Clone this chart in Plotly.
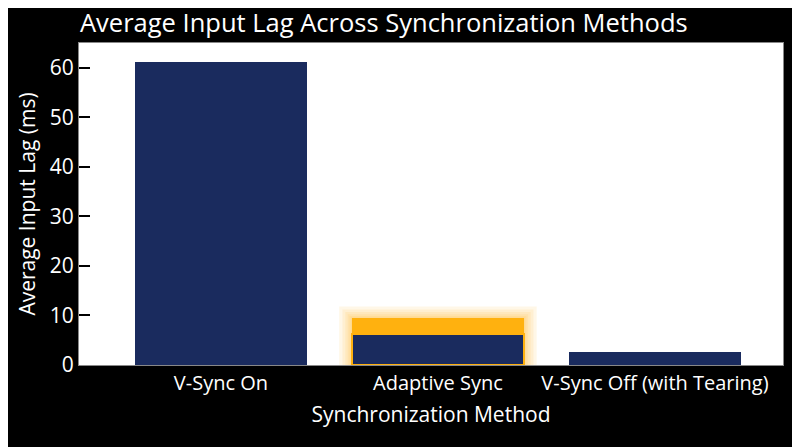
import plotly.graph_objects as go

methods = ["V-Sync On", "Adaptive Sync", "V-Sync Off (with Tearing)"]
avg_lag = [61.2, 6.3, 2.6]
# extra highlighted segment stacked on top of the Adaptive Sync bar
highlight = [0, 3.1, 0]
highlight_idx = 1

navy = "#1a2b5e"
orange = "#ffb10f"
bar_w = 0.79

fig = go.Figure()
fig.add_trace(go.Bar(
    x=list(range(len(methods))), y=avg_lag, width=bar_w,
    marker=dict(color=navy, line=dict(color=[navy, orange, navy], width=[0, 2, 0])),
    showlegend=False,
))
fig.add_trace(go.Bar(
    x=list(range(len(methods))), y=highlight, width=bar_w,
    marker=dict(color=orange, line=dict(width=0)),
    showlegend=False,
))

# soft orange glow around the highlighted bar
top = avg_lag[highlight_idx] + highlight[highlight_idx]
for i, pad in enumerate([0.06, 0.045, 0.032, 0.021, 0.012, 0.005]):
    fig.add_shape(
        type="rect", layer="below",
        x0=highlight_idx - bar_w / 2 - pad, x1=highlight_idx + bar_w / 2 + pad,
        y0=0, y1=top + pad * 40,
        fillcolor=orange, opacity=0.1, line=dict(width=0),
    )

# page body adds 8px, so margins are shifted to compensate
fig.update_layout(
    barmode="stack",
    width=800, height=447,
    paper_bgcolor="black", plot_bgcolor="white",
    margin=dict(l=71, r=25, t=35, b=90, autoexpand=False),
    font=dict(family="Open Sans, sans-serif", color="white", size=20),
    title=dict(text="Average Input Lag Across Synchronization Methods",
               x=0.09, xanchor="left", y=0.966, yanchor="middle",
               font=dict(size=25.5, color="white")),
    xaxis=dict(
        range=[-0.654, 2.59], tickmode="array",
        tickvals=list(range(len(methods))), ticktext=methods,
        showgrid=False, zeroline=False, showline=True, linecolor="#888888", mirror=True,
        ticks="", tickfont=dict(size=20), automargin=False,
        title=dict(text="Synchronization Method", font=dict(size=21), standoff=12),
    ),
    yaxis=dict(
        range=[0, 65], tickvals=[0, 10, 20, 30, 40, 50, 60],
        showgrid=False, zeroline=False, showline=True, linecolor="#888888", mirror=True,
        ticks="inside", ticklen=11, tickcolor="black", tickwidth=1.5,
        tickfont=dict(size=21), automargin=False,
        title=dict(text="Average Input Lag (ms)", font=dict(size=21), standoff=8),
    ),
)

fig.write_html("out.html")
